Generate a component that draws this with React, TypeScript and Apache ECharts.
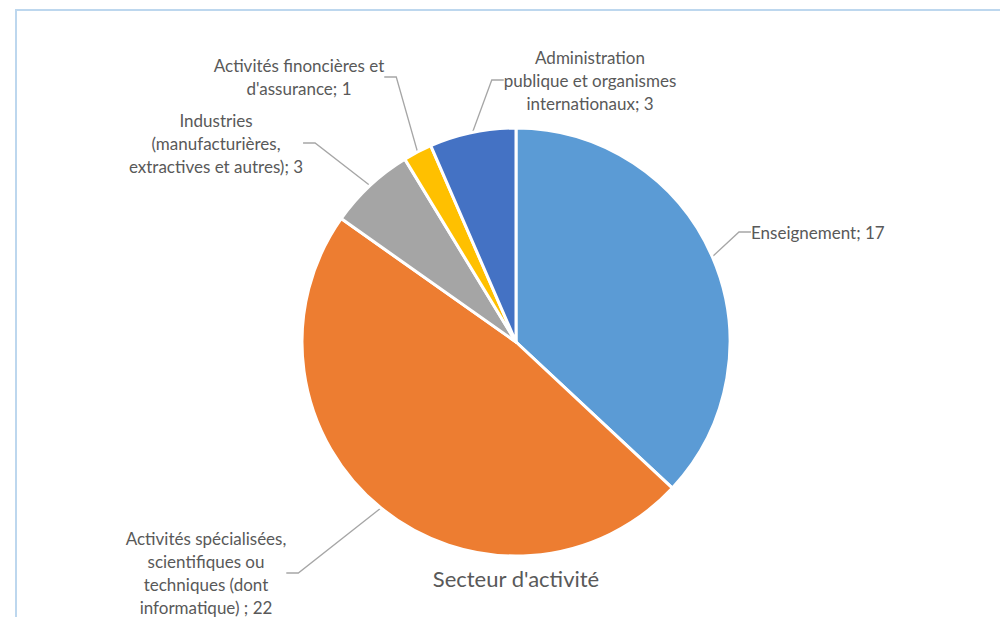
import React, { useEffect, useRef } from "react";
import * as echarts from "echarts";

const categories = [
  "Enseignement",
  "Activités spécialisées, scientifiques ou techniques (dont informatique)",
  "Industries (manufacturières, extractives et autres)",
  "Activités finoncières et d'assurance",
  "Administration publique et organismes internationaux",
];
const values = [17, 22, 3, 1, 3];
const labelTexts = [
  "Enseignement; 17",
  "Activités spécialisées,\nscientifiques ou\ntechniques (dont\ninformatique) ; 22",
  "Industries\n(manufacturières,\nextractives et autres); 3",
  "Activités finoncières et\nd'assurance; 1",
  "Administration\npublique et organismes\ninternationaux; 3",
];
const colors = ["#5B9BD5", "#ED7D31", "#A5A5A5", "#FFC000", "#4472C4"];
const titleText = "Secteur d'activité";

// label anchor placements (layout only)
const labelPlaces = [
  { x: 751, y: 232, align: "left" },
  { x: 206, y: 573, align: "center" },
  { x: 216, y: 143, align: "center" },
  { x: 299, y: 77, align: "center" },
  { x: 590, y: 80, align: "center" },
];

export default function App() {
  const ref = useRef<HTMLDivElement>(null);
  useEffect(() => {
    if (!ref.current) return;
    const chart = echarts.init(ref.current, null, { renderer: "svg" });
    chart.setOption({
      animation: false,
      backgroundColor: "#ffffff",
      title: {
        text: titleText,
        left: 511,
        top: 562,
        textAlign: "center",
        textStyle: {
          fontFamily: "Lato",
          fontSize: 22,
          fontWeight: "normal",
          color: "#595959",
        },
      },
      graphic: [
        {
          type: "rect",
          shape: { x: 16, y: 10, width: 1000, height: 700 },
          style: { fill: "none", stroke: "#BDD7EE", lineWidth: 2 },
          silent: true,
        },
      ],
      series: [
        {
          type: "pie",
          center: [516, 342],
          radius: 214,
          startAngle: 90,
          clockwise: true,
          avoidLabelOverlap: false,
          itemStyle: { borderColor: "#ffffff", borderWidth: 3 },
          label: {
            show: true,
            position: "outside",
            fontFamily: "Lato",
            fontSize: 17,
            lineHeight: 23,
            color: "#595959",
            formatter: (p: any) => labelTexts[p.dataIndex],
          },
          labelLine: {
            show: true,
            length: 15,
            length2: 12,
            smooth: false,
            lineStyle: { color: "#A6A6A6", width: 1.3 },
          },
          labelLayout: (p: any) => {
            const pl = labelPlaces[p.dataIndex];
            return {
              x: pl.x,
              y: pl.y,
              align: pl.align,
              verticalAlign: "middle",
            };
          },
          data: categories.map((name, i) => ({
            name,
            value: values[i],
            itemStyle: { color: colors[i] },
          })),
        },
      ],
    });
    return () => chart.dispose();
  }, []);
  return (
    <div
      ref={ref}
      style={{ position: "absolute", left: 0, top: 0, width: 1000, height: 617 }}
    />
  );
}
